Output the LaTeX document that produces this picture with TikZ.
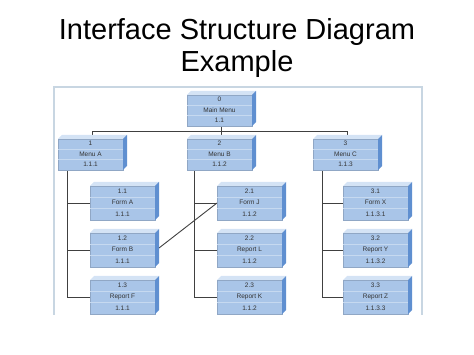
\documentclass[tikz,border=0pt]{standalone}
\usepackage{fontspec}
\setmainfont{Liberation Sans}
\usetikzlibrary{positioning,calc,backgrounds}
\definecolor{uifront}{HTML}{A9C5E8}
\definecolor{uitopc}{HTML}{D4E3F5}
\definecolor{uisidec}{HTML}{5F8FD0}
\definecolor{uiline}{HTML}{C6D9F0}
\definecolor{frameblue}{HTML}{C8D6E2}
\tikzset{
  uibox/.style ={rectangle,fill=uifront,draw=uifront!85!black,line width=.3pt,
                 minimum width=65pt,minimum height=34pt,inner sep=0pt,outer sep=0pt},
  menubox/.style={uibox,minimum height=31pt},
  uitop/.style ={fill=uitopc},
  uiside/.style={fill=uisidec},
  uidiv/.style ={draw=uiline,line width=.6pt},
  uitxt/.style ={font=\fontsize{6.5}{7}\selectfont,text=black!80,inner sep=0pt,
                 text height=4.6pt,text depth=1.2pt},
  conn/.style  ={draw=black!75,line width=.9pt},
  frame/.style ={draw=frameblue,line width=1.2pt},
  ttl/.style   ={font=\fontsize{29}{32}\selectfont,inner sep=0pt,anchor=base},
}
% box with top face, side face and three rows
\newcommand{\uibox}[5]{%
  \node[#2] (#1) {};
  \fill[uitop] (#1.north west) -- ++(4,-4) -- ($(#1.north east)+(4,-4)$) -- (#1.north east) -- cycle;
  \fill[uiside] (#1.north east) -- ++(4,-4) -- ($(#1.south east)+(4,-4)$) -- (#1.south east) -- cycle;
  \draw[uidiv] ($(#1.north west)!1/3!(#1.south west)$) -- ($(#1.north east)!1/3!(#1.south east)$);
  \draw[uidiv] ($(#1.north west)!2/3!(#1.south west)$) -- ($(#1.north east)!2/3!(#1.south east)$);
  \node[uitxt] (#1-t) at ($(#1.north)!1/6!(#1.south)$) {#3};
  \node[uitxt] (#1-m) at ($(#1.north)!3/6!(#1.south)$) {#4};
  \node[uitxt] (#1-b) at ($(#1.north)!5/6!(#1.south)$) {#5};
}
\begin{document}
\begin{tikzpicture}[x=1pt,y=-1pt]
  \useasboundingbox (0,0) rectangle (474,355);
  % title
  \node[ttl] (title1) at (237,40) {Interface Structure Diagram};
  \node[ttl] (title2) at (237,72) {Example};

  % menus
  \uibox{main}{menubox,anchor=north west,at={(187,95)}}{0}{Main Menu}{1.1}
  \uibox{menuA}{menubox,anchor=north west,at={(58,139)}}{1}{Menu A}{1.1.1}
  \uibox{menuB}{menubox,anchor=north west,at={(187,139)}}{2}{Menu B}{1.1.2}
  \uibox{menuC}{menubox,anchor=north west,at={(313,139)}}{3}{Menu C}{1.1.3}

  % forms and reports
  \uibox{formA}{uibox,anchor=north west,at={(90,186)}}{1.1}{Form A}{1.1.1}
  \uibox{formB}{uibox,below=13pt of formA}{1.2}{Form B}{1.1.1}
  \uibox{repF}{uibox,below=13pt of formB}{1.3}{Report F}{1.1.1}
  \uibox{formJ}{uibox,anchor=north west,at={(217,186)}}{2.1}{Form J}{1.1.2}
  \uibox{repL}{uibox,below=13pt of formJ}{2.2}{Report L}{1.1.2}
  \uibox{repK}{uibox,below=13pt of repL}{2.3}{Report K}{1.1.2}
  \uibox{formX}{uibox,anchor=north west,at={(343,186)}}{3.1}{Form X}{1.1.3.1}
  \uibox{repY}{uibox,below=13pt of formX}{3.2}{Report Y}{1.1.3.2}
  \uibox{repZ}{uibox,below=13pt of repY}{3.3}{Report Z}{1.1.3.3}

  \begin{scope}[on background layer]
    \draw[frame] (54,315) -- (54,87) -- (422,87) -- (422,315);
    % menu tree
    \coordinate (hub) at ([xshift=2pt,yshift=-5pt]main.south);
    \draw[conn] ([xshift=2pt]main.south) -- (hub);
    \foreach \m in {menuA,menuB,menuC}
      \draw[conn] (hub) -| ([xshift=2pt]\m.north);
    % columns
    \coordinate (colA) at ([xshift=9pt]menuA.south west);
    \coordinate (colB) at ([xshift=7pt]menuB.south west);
    \coordinate (colC) at ([xshift=9pt]menuC.south west);
    \draw[conn] (colA) |- (repF.west);
    \draw[conn] (colB) |- (repK.west);
    \draw[conn] (colC) |- (repZ.west);
    \foreach \b/\c in {formA/colA,formB/colA,formJ/colB,repL/colB,formX/colC,repY/colC}
      \draw[conn] (\b.west) -- (\b.west -| \c);
    \draw[conn] ([xshift=4pt,yshift=2pt]formB.east) -- (formJ.west);
  \end{scope}
\end{tikzpicture}
\end{document}
